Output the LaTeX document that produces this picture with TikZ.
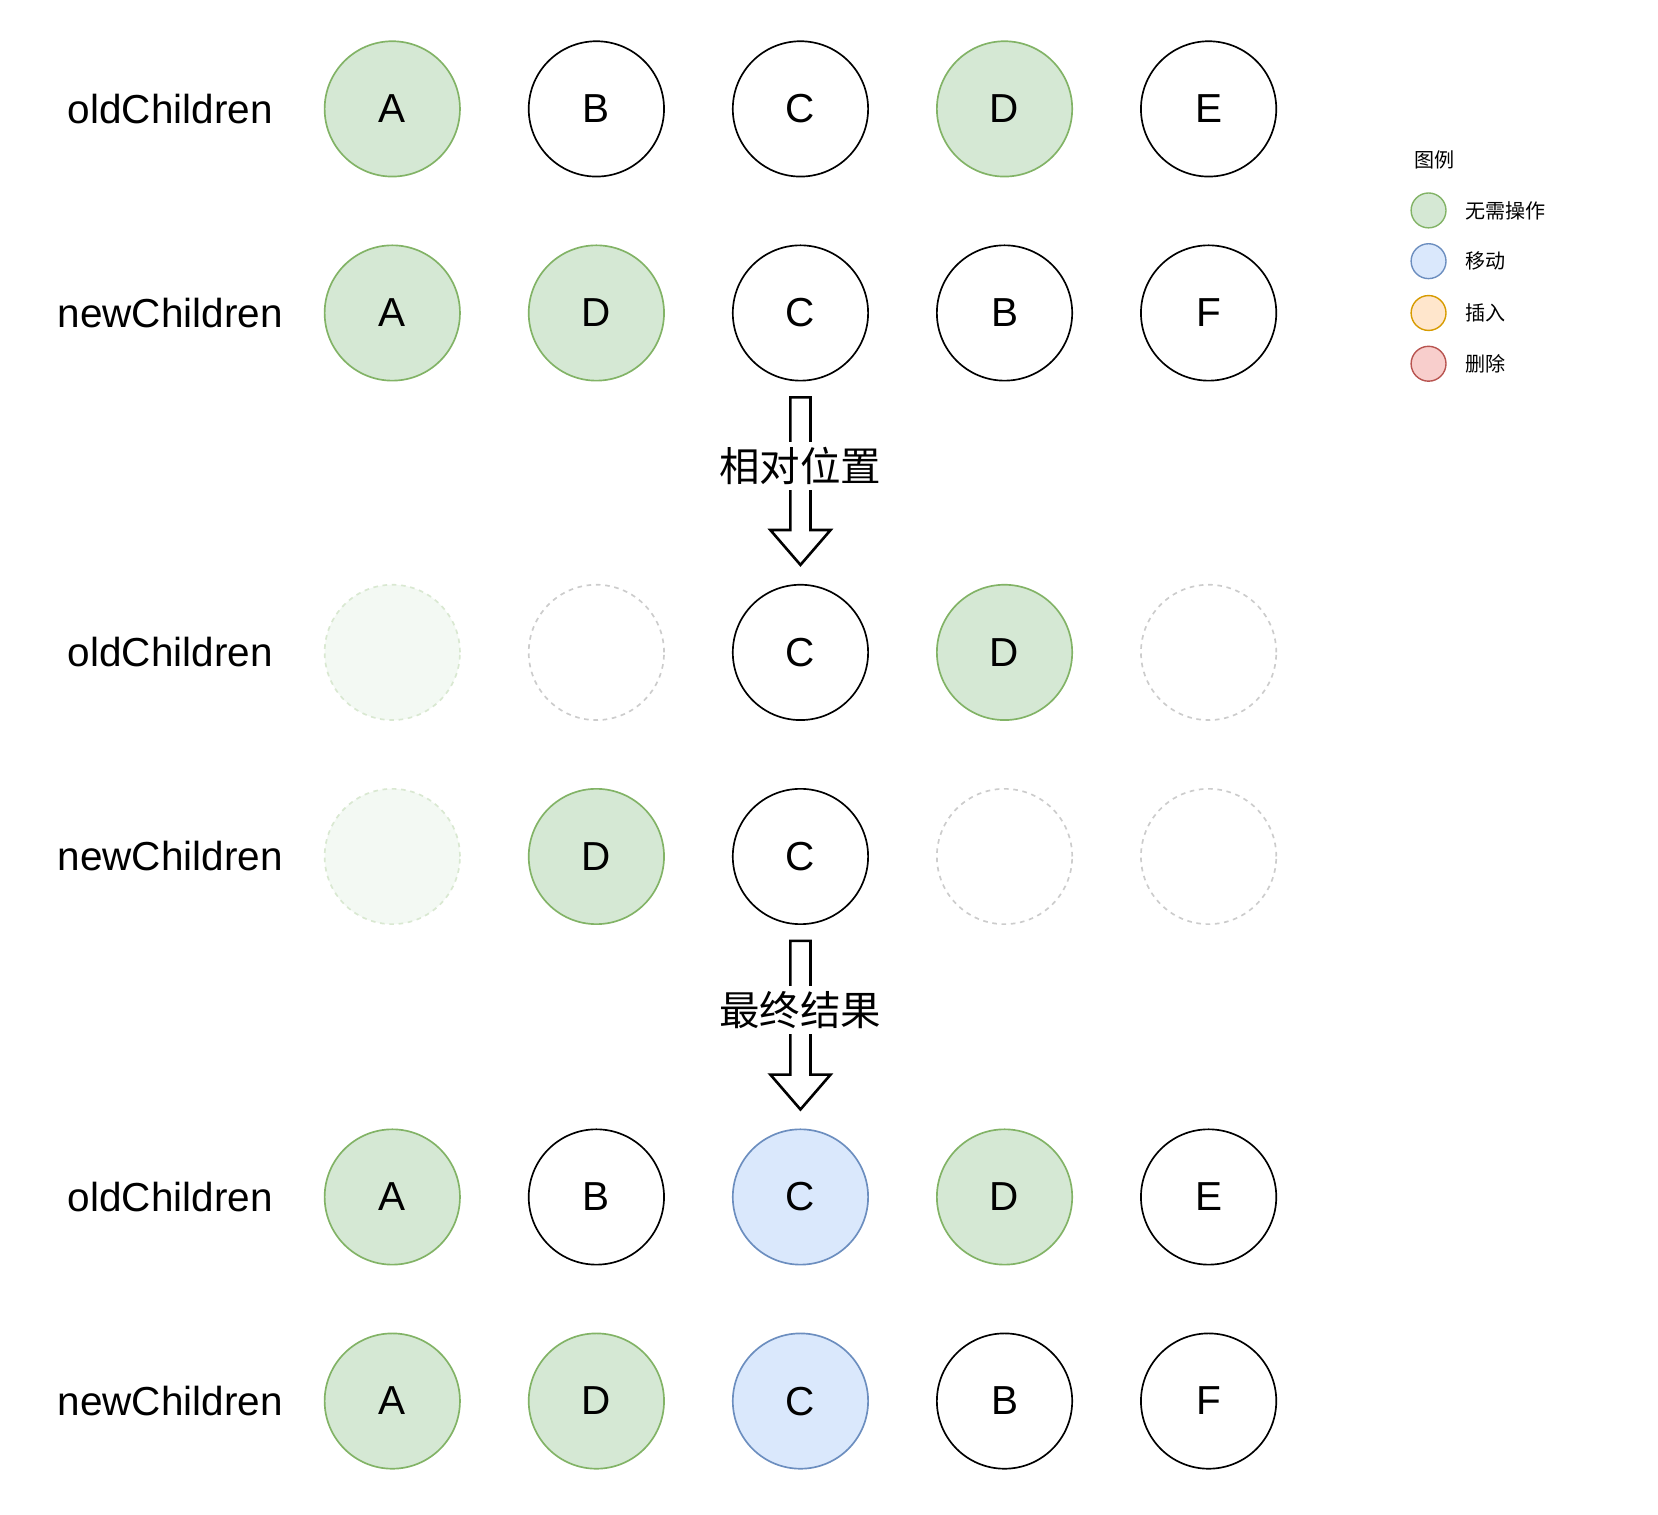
\documentclass[tikz,border=0pt]{standalone}
\usepackage{fontspec}
\setmainfont{Liberation Sans}
\newfontfamily\cjk{Noto Sans CJK SC}
\usepackage{xcolor}
\usepackage{tikz}
\usetikzlibrary{calc}

\definecolor{keepfill}{HTML}{D5E8D4}
\definecolor{keepline}{HTML}{82B366}
\definecolor{movefill}{HTML}{DAE8FC}
\definecolor{moveline}{HTML}{6C8EBF}
\definecolor{insfill}{HTML}{FFE6CC}
\definecolor{insline}{HTML}{D79B00}
\definecolor{delfill}{HTML}{F8CECC}
\definecolor{delline}{HTML}{B85450}

\begin{document}
\begin{tikzpicture}[x=0.02cm,y=-0.02cm,
  every node/.style={font=\fontsize{21.8}{26}\selectfont},
  ball/.style={circle,draw,line width=0.9pt,minimum size=2.56cm,inner sep=0pt},
  plain/.style={ball,fill=white},
  keep/.style={ball,draw=keepline,fill=keepfill},
  move/.style={ball,draw=moveline,fill=movefill},
  ghost/.style={ball,dash pattern=on 2.5pt off 2.5pt,draw=keepline!30,fill=keepfill!28},
  vacant/.style={ball,dash pattern=on 2.5pt off 2.5pt,draw=black!20},
  dot/.style={circle,draw,line width=0.75pt,minimum size=0.66cm,inner sep=0pt},
  legend/.style={font=\cjk\fontsize{10.8}{13}\selectfont,anchor=west},
  hollow/.style={draw,line width=1.4pt,fill=white,line join=miter},
  tag/.style={font=\cjk\fontsize{21.8}{26}\selectfont,fill=white,inner sep=3pt}]
\useasboundingbox (0,0) rectangle (1568,1432);

% row labels
\node (la) at (161,103)  {oldChildren};
\node (lb) at (161,296)  {newChildren};
\node (lc) at (161,617)  {oldChildren};
\node (ld) at (161,810)  {newChildren};
\node (le) at (161,1132) {oldChildren};
\node (lf) at (161,1325) {newChildren};

% before
\node[keep]  (a1) at (371,103) {A};
\node[plain] (a2) at (564,103) {B};
\node[plain] (a3) at (757,103) {C};
\node[keep]  (a4) at (950,103) {D};
\node[plain] (a5) at (1143,103) {E};

\node[keep]  (b1) at (371,296) {A};
\node[keep]  (b2) at (564,296) {D};
\node[plain] (b3) at (757,296) {C};
\node[plain] (b4) at (950,296) {B};
\node[plain] (b5) at (1143,296) {F};

% relative positions
\node[ghost]  (c1) at (371,617) {};
\node[vacant] (c2) at (564,617) {};
\node[plain]  (c3) at (757,617) {C};
\node[keep]   (c4) at (950,617) {D};
\node[vacant] (c5) at (1143,617) {};

\node[ghost]  (d1) at (371,810) {};
\node[keep]   (d2) at (564,810) {D};
\node[plain]  (d3) at (757,810) {C};
\node[vacant] (d4) at (950,810) {};
\node[vacant] (d5) at (1143,810) {};

% result
\node[keep]  (e1) at (371,1132) {A};
\node[plain] (e2) at (564,1132) {B};
\node[move]  (e3) at (757,1132) {C};
\node[keep]  (e4) at (950,1132) {D};
\node[plain] (e5) at (1143,1132) {E};

\node[keep]  (f1) at (371,1325) {A};
\node[keep]  (f2) at (564,1325) {D};
\node[move]  (f3) at (757,1325) {C};
\node[plain] (f4) at (950,1325) {B};
\node[plain] (f5) at (1143,1325) {F};

% big arrows
\foreach \from/\to/\txt in {b3/c3/相对位置, d3/e3/最终结果}{
  \coordinate (s) at ($(\from.south)+(0,15)$);
  \coordinate (t) at ($(\to.north)+(0,-18)$);
  \draw[hollow] ($(s)+(-9.5,0)$) -- ($(s)+(9.5,0)$) -- ($(t)+(9.5,-33)$)
    -- ($(t)+(28.5,-33)$) -- (t) -- ($(t)+(-28.5,-33)$)
    -- ($(t)+(-9.5,-33)$) -- cycle;
  \node[tag] at ($(s)!0.41!(t)$) {\txt};
}

% legend
\node[font=\cjk\fontsize{10.8}{13}\selectfont] (key) at (1357,151) {图例};
\node[dot,draw=keepline,fill=keepfill] (k1) at (1351,199) {};
\node[dot,draw=moveline,fill=movefill] (k2) at (1351,247) {};
\node[dot,draw=insline,fill=insfill]   (k3) at (1351,296) {};
\node[dot,draw=delline,fill=delfill]   (k4) at (1351,344) {};
\node[legend] (t1) at (1380,199) {无需操作};
\node[legend] (t2) at (1380,247) {移动};
\node[legend] (t3) at (1380,296) {插入};
\node[legend] (t4) at (1380,344) {删除};
\end{tikzpicture}
\end{document}
